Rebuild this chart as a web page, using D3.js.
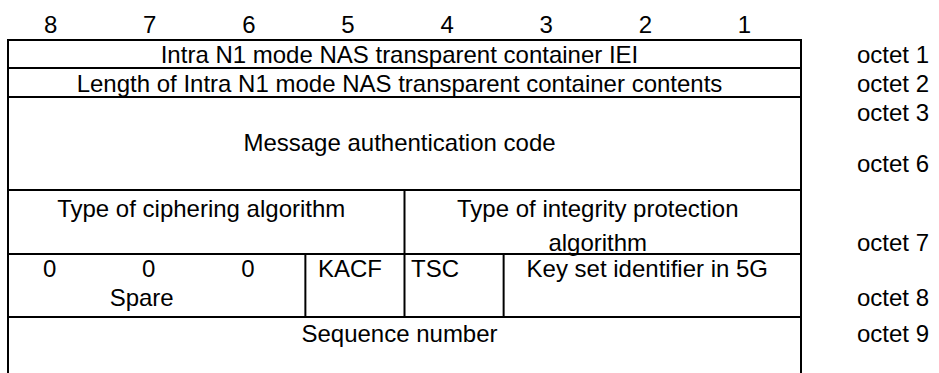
<!DOCTYPE html>
<html>
<head>
<meta charset="utf-8">
<script src="https://cdn.jsdelivr.net/npm/d3@7"></script>
<style>
  html, body { margin: 0; padding: 0; background: #fff; }
  svg { display: block; }
  text { font-family: "Liberation Sans", Arial, Helvetica, sans-serif; fill: #000; }
</style>
</head>
<body>
<svg id="chart" width="939" height="373"></svg>
<script>
// ---- data ----
const bitLabels = ["8", "7", "6", "5", "4", "3", "2", "1"];
const octetLabels = ["octet 1", "octet 2", "octet 3", "octet 6", "octet 7", "octet 8", "octet 9"];
const fieldRows = ["iei", "length", "mac", "algs", "flags", "seq"];
// fields: row, first bit (high), last bit (low), text lines
const fieldTexts = [
  { row: "iei",    from: "8", to: "1", lines: ["Intra N1 mode NAS transparent container IEI"] },
  { row: "length", from: "8", to: "1", lines: ["Length of Intra N1 mode NAS transparent container contents"] },
  { row: "mac",    from: "8", to: "1", lines: ["", "Message authentication code"] },
  { row: "algs",   from: "8", to: "5", lines: ["Type of ciphering algorithm"] },
  { row: "algs",   from: "4", to: "1", lines: ["Type of integrity protection", "algorithm"] },
  { row: "flags",  from: "8", to: "8", lines: ["0"] },
  { row: "flags",  from: "7", to: "7", lines: ["0", "Spare"] },
  { row: "flags",  from: "6", to: "6", lines: ["0"] },
  { row: "flags",  from: "5", to: "5", lines: ["KACF"] },
  { row: "flags",  from: "4", to: "4", lines: ["TSC"] },
  { row: "flags",  from: "3", to: "1", lines: ["Key set identifier in 5G"] },
  { row: "seq",    from: "8", to: "1", lines: ["Sequence number"] }
];
// vertical dividers inside rows: [row, bit on the right side of divider]
const dividers = [["algs", "4"], ["flags", "5"], ["flags", "4"], ["flags", "3"]];
// octet label placement: row and line index within row
const octetPlacement = [["iei", 0], ["length", 0], ["mac", 0], ["mac", 2], ["algs", 1], ["flags", 1], ["seq", 0]];

// ---- layout ----
const svg = d3.select("#chart");
const fontSize = 24;
const x = d3.scaleBand().domain(bitLabels).range([8, 801]);
const rowEdges = [40, 68, 97, 190, 254, 317, 385];
const rowTop = {}, rowBottom = {};
fieldRows.forEach((r, i) => { rowTop[r] = rowEdges[i]; rowBottom[r] = rowEdges[i + 1]; });
// first line centre per row and offsets of following lines
const firstLineCenter = { iei: 54.5, length: 83, mac: 112, algs: 208, flags: 268, seq: 333 };
const lineOffsets = { iei: [0], length: [0], mac: [0, 30, 51], algs: [0, 34], flags: [0, 29], seq: [0] };
const textShift = -5;
const capOffset = fontSize * 0.36;

// bit header
svg.append("g").selectAll("text").data(bitLabels).join("text")
  .attr("x", d => x(d) + x.bandwidth() / 2 - 7)
  .attr("y", 24.5 + capOffset)
  .attr("text-anchor", "middle")
  .style("font-size", fontSize + "px")
  .text(d => d);

// lines
const g = svg.append("g").attr("stroke", "#000").attr("stroke-width", 2).attr("fill", "none");
g.append("line").attr("x1", x.range()[0]).attr("x2", x.range()[0]).attr("y1", rowEdges[0] - 1).attr("y2", 400);
g.append("line").attr("x1", x.range()[1]).attr("x2", x.range()[1]).attr("y1", rowEdges[0] - 1).attr("y2", 400);
g.selectAll("line.h").data(rowEdges).join("line").attr("class", "h")
  .attr("x1", x.range()[0] - 1).attr("x2", x.range()[1] + 1)
  .attr("y1", d => d).attr("y2", d => d);
g.selectAll("line.v").data(dividers).join("line").attr("class", "v")
  .attr("x1", d => x(d[1])).attr("x2", d => x(d[1]))
  .attr("y1", d => rowTop[d[0]]).attr("y2", d => rowBottom[d[0]]);

// field text
const extraShift = { "TSC": -14, "Spare": -10 };
const tg = svg.append("g").style("font-size", fontSize + "px").attr("text-anchor", "middle");
fieldTexts.forEach(f => {
  const cx = (x(f.from) + x(f.to) + x.bandwidth()) / 2 + textShift;
  f.lines.forEach((ln, i) => {
    if (!ln) return;
    let dx = extraShift[ln] || 0;
    if (ln === "0") dx = -3;
    tg.append("text")
      .attr("x", cx + dx)
      .attr("y", firstLineCenter[f.row] + lineOffsets[f.row][i] + capOffset)
      .text(ln);
  });
});

// octet labels
svg.append("g").selectAll("text").data(octetLabels).join("text")
  .attr("x", 857)
  .attr("y", (d, i) => {
    const [r, li] = octetPlacement[i];
    return firstLineCenter[r] + lineOffsets[r][li] + capOffset;
  })
  .style("font-size", fontSize + "px")
  .text(d => d);
</script>
</body>
</html>
